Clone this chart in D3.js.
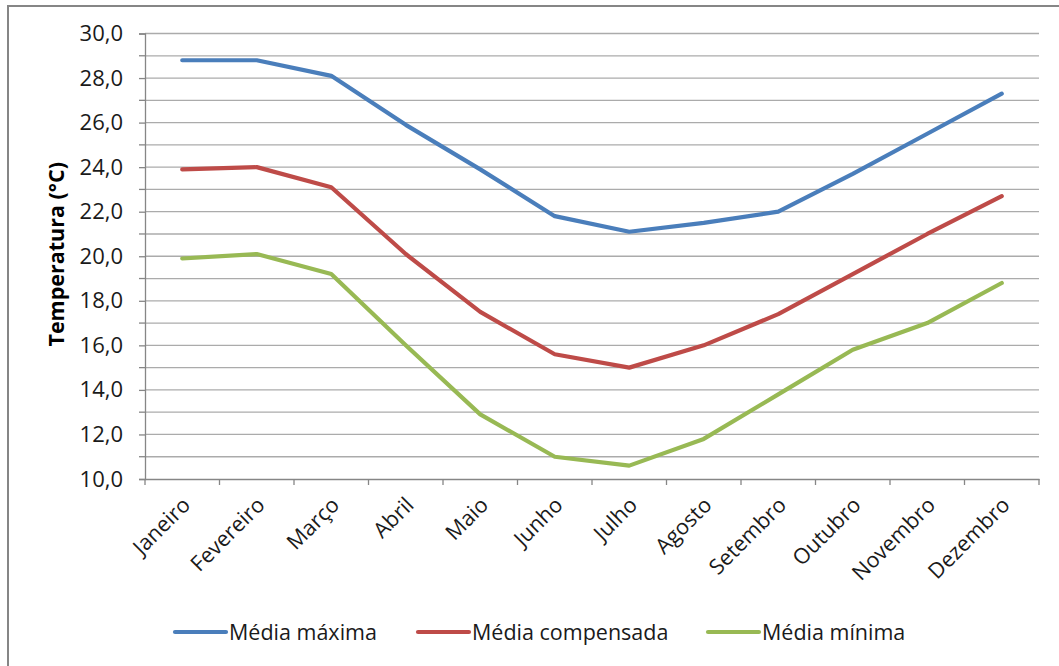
<!DOCTYPE html>
<html>
<head>
<meta charset="utf-8">
<script src="https://cdn.jsdelivr.net/npm/d3@7"></script>
<style>
  html, body { margin: 0; padding: 0; background: #fff; }
  svg { display: block; font-family: "Open Sans", sans-serif; }
</style>
</head>
<body>
<svg id="chart" width="1059" height="666"></svg>
<script>
// Monthly temperature normals (°C)
const months = ["Janeiro", "Fevereiro", "Março", "Abril", "Maio", "Junho",
                "Julho", "Agosto", "Setembro", "Outubro", "Novembro", "Dezembro"];
const mediaMaxima      = [28.8, 28.8, 28.1, 25.9, 23.9, 21.8, 21.1, 21.5, 22.0, 23.7, 25.5, 27.3];
const mediaCompensada  = [23.9, 24.0, 23.1, 20.1, 17.5, 15.6, 15.0, 16.0, 17.4, 19.2, 21.0, 22.7];
const mediaMinima      = [19.9, 20.1, 19.2, 16.0, 12.9, 11.0, 10.6, 11.8, 13.8, 15.8, 17.0, 18.8];
const seriesNames      = ["Média máxima", "Média compensada", "Média mínima"];
const yTickValues      = [10, 12, 14, 16, 18, 20, 22, 24, 26, 28, 30];
const yMinorValues     = [11, 13, 15, 17, 19, 21, 23, 25, 27, 29];
const yTitle           = "Temperatura (°C)";

const colors = ["#4A7EBB", "#BE4B48", "#98B954"];
const series = [mediaMaxima, mediaCompensada, mediaMinima];

const svg = d3.select("#chart");
const plot = { left: 145, right: 1039, top: 33.5, bottom: 479 };

// outer chart frame
svg.append("rect")
  .attr("x", 8).attr("y", 6)
  .attr("width", 1100).attr("height", 700)
  .attr("fill", "#fff")
  .attr("stroke", "#868686").attr("stroke-width", 2);

const x = d3.scaleBand().domain(months).range([plot.left, plot.right]).padding(0);
const y = d3.scaleLinear().domain([10, 30]).range([plot.bottom, plot.top]);

// horizontal gridlines (major and minor)
const gridVals = yTickValues.concat(yMinorValues).filter(v => v !== 10);
svg.append("g").selectAll("line").data(gridVals).join("line")
  .attr("x1", plot.left).attr("x2", plot.right)
  .attr("y1", d => y(d)).attr("y2", d => y(d))
  .attr("stroke", "#ababab").attr("stroke-width", 1.3);

// y axis
const yAxis = svg.append("g").attr("transform", `translate(${plot.left},0)`)
  .call(d3.axisLeft(y).tickValues(yTickValues).tickSize(6).tickPadding(16)
    .tickFormat(d => d3.format(".1f")(d).replace(".", ",")));
yAxis.select(".domain").attr("stroke", "#868686").attr("stroke-width", 1.3);
yAxis.selectAll(".tick line").attr("stroke", "#868686").attr("stroke-width", 1.3);
yAxis.selectAll(".tick text").attr("font-size", 22).attr("fill", "#1a1a1a")
  .attr("font-family", "Open Sans, sans-serif");
// minor ticks
yAxis.append("g").selectAll("line").data(yMinorValues).join("line")
  .attr("x1", -6).attr("x2", 0)
  .attr("y1", d => y(d)).attr("y2", d => y(d))
  .attr("stroke", "#868686").attr("stroke-width", 1.3);

// x axis
const xAxis = svg.append("g").attr("transform", `translate(0,${plot.bottom})`)
  .call(d3.axisBottom(x).tickSize(0).tickFormat(""));
xAxis.select(".domain").attr("stroke", "#868686").attr("stroke-width", 1.3);
const bounds = months.map(m => x(m)).concat([plot.right]);
xAxis.append("g").selectAll("line").data(bounds).join("line")
  .attr("x1", d => d).attr("x2", d => d)
  .attr("y1", 0).attr("y2", 6)
  .attr("stroke", "#868686").attr("stroke-width", 1.3);

// rotated month labels
svg.append("g").selectAll("text").data(months).join("text")
  .attr("transform", d => `translate(${x(d) + x.bandwidth() / 2 + 4},${plot.bottom + 22}) rotate(-45)`)
  .attr("text-anchor", "end")
  .attr("dy", "0.35em")
  .attr("font-size", 21.5)
  .attr("fill", "#1a1a1a")
  .text(d => d);

// y axis title
svg.append("text")
  .attr("transform", `translate(64,${(plot.top + plot.bottom) / 2 - 2}) rotate(-90)`)
  .attr("text-anchor", "middle")
  .attr("font-size", 21.5)
  .attr("font-weight", "bold")
  .attr("fill", "#000")
  .text(yTitle);

// series lines
const line = d3.line()
  .x((d, i) => x(months[i]) + x.bandwidth() / 2)
  .y(d => y(d));
svg.append("g").selectAll("path").data(series).join("path")
  .attr("d", d => line(d))
  .attr("fill", "none")
  .attr("stroke", (d, i) => colors[i])
  .attr("stroke-width", 4.2)
  .attr("stroke-linejoin", "round")
  .attr("stroke-linecap", "round");

// legend
const legendX = [175, 418, 708];
const legendY = 632;
const lg = svg.append("g").selectAll("g").data(seriesNames).join("g")
  .attr("transform", (d, i) => `translate(${legendX[i]},${legendY})`);
lg.append("line")
  .attr("x1", 0).attr("x2", 51).attr("y1", 0).attr("y2", 0)
  .attr("stroke", (d, i) => colors[i])
  .attr("stroke-width", 4.2)
  .attr("stroke-linecap", "round");
lg.append("text")
  .attr("x", 54).attr("y", 0).attr("dy", "0.35em")
  .attr("font-size", 21.5)
  .attr("fill", "#1a1a1a")
  .text(d => d);
</script>
</body>
</html>
